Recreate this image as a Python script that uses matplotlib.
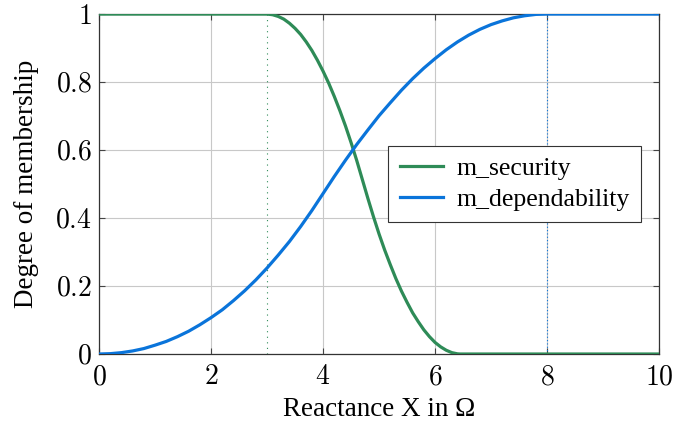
import numpy as np
import matplotlib.pyplot as plt

# reactance values (Ohm) and membership degrees
x_security = [0, 3.0, 3.1, 3.2, 3.3, 3.4, 3.5, 3.6, 3.7, 3.8, 3.9, 4.0,
              4.1, 4.2, 4.3, 4.4, 4.5, 4.6, 4.7, 4.8, 4.9, 5.0, 5.1, 5.2,
              5.3, 5.4, 5.5, 5.6, 5.7, 5.8, 5.9, 6.0, 6.1, 6.2, 6.3, 6.4,
              6.45, 10]
m_security = [1, 1, 0.998, 0.993, 0.985, 0.973, 0.958, 0.94, 0.918, 0.893,
              0.864, 0.832, 0.797, 0.758, 0.716, 0.671, 0.622, 0.57, 0.514,
              0.458, 0.404, 0.353, 0.306, 0.263, 0.222, 0.185, 0.152, 0.121,
              0.095, 0.071, 0.051, 0.034, 0.021, 0.011, 0.004, 0.0005, 0, 0]

x_dependability = [0, 0.2, 0.4, 0.6, 0.8, 1.0, 1.2, 1.4, 1.6, 1.8, 2.0,
                   2.2, 2.4, 2.6, 2.8, 3.0, 3.2, 3.4, 3.6, 3.8, 4.0, 4.2,
                   4.4, 4.6, 4.8, 5.0, 5.2, 5.4, 5.6, 5.8, 6.0, 6.2, 6.4,
                   6.6, 6.8, 7.0, 7.2, 7.4, 7.6, 7.8, 8.0, 10]
m_dependability = [0, 0.001, 0.004, 0.009, 0.016, 0.026, 0.037, 0.051,
                   0.067, 0.086, 0.107, 0.13, 0.157, 0.186, 0.218, 0.253,
                   0.291, 0.331, 0.375, 0.422, 0.472, 0.522, 0.57, 0.616,
                   0.659, 0.701, 0.739, 0.776, 0.81, 0.841, 0.869, 0.895,
                   0.918, 0.938, 0.955, 0.969, 0.98, 0.989, 0.995, 0.999, 1, 1]

# breakpoints marked with dotted lines
security_limit = 3
dependability_limit = 8

green = '#2e8b57'
blue = '#0a74da'

plt.rcParams['font.family'] = ['Liberation Serif', 'DejaVu Serif']
plt.rcParams['mathtext.fontset'] = 'cm'

fig = plt.figure(figsize=(6.94, 4.26), dpi=100)
ax = fig.add_axes([0.1427, 0.169, 0.807, 0.798])

ax.plot(x_security, m_security, color=green, lw=2.3, label='m_security',
        zorder=3, solid_joinstyle='round')
ax.plot(x_dependability, m_dependability, color=blue, lw=2.3,
        label='m_dependability', zorder=3, solid_joinstyle='round')

ax.axvline(security_limit, color=green, lw=0.8, ls=(0, (1, 4)), zorder=2)
ax.axvline(dependability_limit, color=blue, lw=0.8, ls=(0, (1, 2)), zorder=2)

xt = [0, 2, 4, 6, 8, 10]
yt = [0, 0.2, 0.4, 0.6, 0.8, 1]
ax.set_xlim(0, 10)
ax.set_ylim(0, 1)
ax.set_xticks(xt)
ax.set_yticks(yt)
ax.set_xticklabels([f'${v}$' for v in xt])
ax.set_yticklabels([f'${v:g}$' for v in yt])
ax.tick_params(direction='in', top=True, right=True, length=4, width=0.8,
               labelsize=20, color='#444444')
ax.tick_params(axis='x', pad=8)
ax.tick_params(axis='y', pad=5)
ax.grid(True, color='#c8c8c8', lw=0.8)
ax.set_axisbelow(True)
for s in ax.spines.values():
    s.set_color('#333333')
    s.set_linewidth(0.9)

ax.set_xlabel('Reactance X in Ω', fontsize=19.5, labelpad=5)
ax.set_ylabel('Degree of membership', fontsize=19.5, labelpad=12)

leg = ax.legend(loc='center left', bbox_to_anchor=(0.516, 0.5), fontsize=18.5,
                fancybox=False, framealpha=1, edgecolor='#333333',
                handlelength=1.7, borderpad=0.45, labelspacing=0.3,
                handletextpad=0.5, borderaxespad=0)
leg.get_frame().set_linewidth(0.8)

fig.savefig('out.png', dpi=100)
